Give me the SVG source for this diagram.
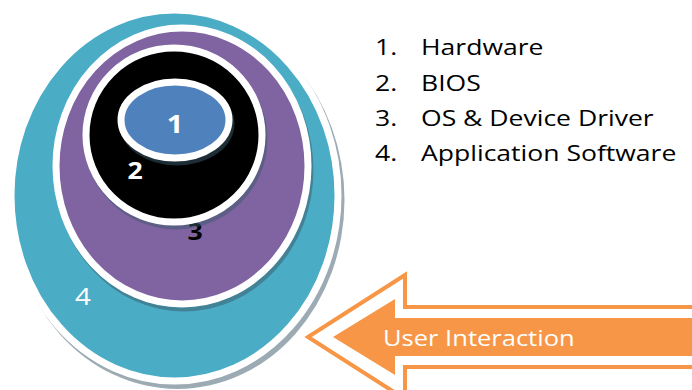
<svg xmlns="http://www.w3.org/2000/svg" width="692" height="390" viewBox="0 0 692 390">
  <defs>
    <filter id="soft" x="-5%" y="-5%" width="110%" height="110%">
      <feGaussianBlur stdDeviation="0.7"/>
    </filter>
  </defs>
  <style>
    .ring { stroke: #ffffff; stroke-width: 7; }
    .shadow { fill: #3a5a6a; opacity: 0.5; filter: url(#soft); }
    .num { font-family: "Open Sans", "Liberation Sans", sans-serif; font-weight: bold; text-anchor: middle; }
    .legend { font-family: "Open Sans", "Liberation Sans", sans-serif; font-size: 22.5px; fill: #000000; }
    .arrow-text { font-family: "Open Sans", "Liberation Sans", sans-serif; font-size: 22px; fill: #ffffff; }
  </style>

  <rect width="692" height="390" fill="#ffffff"/>

  <!-- layer 4: application software -->
  <g id="layer-4">
    <ellipse class="shadow" cx="177.5" cy="200" rx="167" ry="189"/>
    <ellipse class="ring" cx="174.5" cy="195.5" rx="163.5" ry="185.5" fill="#4BACC6" stroke-width="6"/>
    <text font-family="Open Sans, Liberation Sans, sans-serif" font-size="24" fill="#ffffff" transform="translate(75 305) scale(1.16 1)">4</text>
  </g>

  <!-- layer 3: OS & device driver -->
  <g id="layer-3">
    <ellipse class="shadow" cx="184" cy="170" rx="129.5" ry="141.5"/>
    <ellipse class="ring" cx="182" cy="166" rx="126" ry="138" fill="#8064A2"/>
    <text class="num" font-size="23" fill="#000000" transform="translate(195 240) scale(1.16 1)">3</text>
  </g>

  <!-- layer 2: BIOS -->
  <g id="layer-2">
    <ellipse class="shadow" cx="176" cy="139" rx="91.5" ry="90.5"/>
    <ellipse class="ring" cx="174" cy="135" rx="88" ry="87" fill="#000000"/>
    <text class="num" font-size="23" fill="#ffffff" transform="translate(135 179) scale(1.16 1)">2</text>
  </g>

  <!-- layer 1: hardware -->
  <g id="layer-1">
    <ellipse class="shadow" cx="177" cy="124" rx="57.5" ry="41.5"/>
    <ellipse class="ring" cx="175" cy="120" rx="54" ry="38" fill="#4F81BD"/>
    <text class="num" font-size="25" fill="#ffffff" transform="translate(175 133) scale(1.16 1)">1</text>
  </g>

  <!-- legend -->
  <g id="legend" class="legend">
    <text transform="translate(375 55) scale(1.18 1)">1.</text>
    <text transform="translate(421 55) scale(1.18 1)">Hardware</text>
    <text transform="translate(375 90.5) scale(1.18 1)">2.</text>
    <text transform="translate(421 90.5) scale(1.18 1)">BIOS</text>
    <text transform="translate(375 126) scale(1.18 1)">3.</text>
    <text transform="translate(421 126) scale(1.18 1)">OS &amp; Device Driver</text>
    <text transform="translate(375 161) scale(1.18 1)">4.</text>
    <text transform="translate(421 161) scale(1.18 1)">Application Software</text>
  </g>

  <!-- user interaction arrow -->
  <g id="user-interaction">
    <polygon points="695,307 405,307 405,275 308,337 405,399 405,367 695,367" fill="#ffffff" stroke="#F79646" stroke-width="4" stroke-linejoin="miter"/>
    <polygon points="695,318 395,318 395,299 333,337 395,375 395,356 695,356" fill="#F79646"/>
    <text class="arrow-text" transform="translate(383 346) scale(1.16 1)">User Interaction</text>
  </g>
</svg>
